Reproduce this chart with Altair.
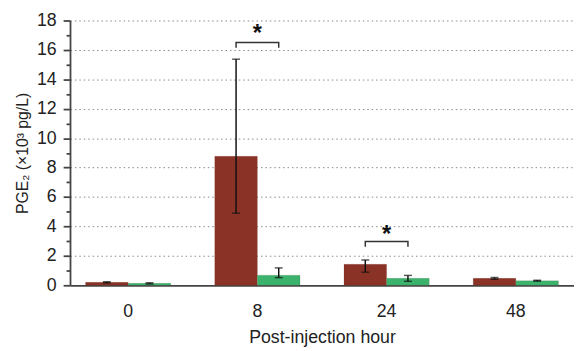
import altair as alt
import pandas as pd

hours = ["0", "8", "24", "48"]
groups = ["A", "B"]
red_vals = [0.20, 8.77, 1.43, 0.47]
red_lo = [0.16, 4.90, 0.89, 0.41]
red_hi = [0.24, 15.37, 1.72, 0.53]
green_vals = [0.13, 0.69, 0.47, 0.31]
green_lo = [0.09, 0.52, 0.27, 0.28]
green_hi = [0.17, 1.18, 0.67, 0.34]

sig_hours = ["8", "24"]
sig_top = [16.5, 2.97]
sig_leg = [16.15, 2.62]
sig_star = [17.35, 3.65]

rows = []
for i, h in enumerate(hours):
    rows.append({"hour": h, "group": "A", "v": red_vals[i], "lo": red_lo[i], "hi": red_hi[i]})
    rows.append({"hour": h, "group": "B", "v": green_vals[i], "lo": green_lo[i], "hi": green_hi[i]})
df = pd.DataFrame(rows)

brows = []
for i, h in enumerate(sig_hours):
    brows += [
        {"hour": h, "group": "A", "y": sig_leg[i], "o": 0},
        {"hour": h, "group": "A", "y": sig_top[i], "o": 1},
        {"hour": h, "group": "B", "y": sig_top[i], "o": 2},
        {"hour": h, "group": "B", "y": sig_leg[i], "o": 3},
    ]
bdf = pd.DataFrame(brows)
sdf = pd.DataFrame({"hour": sig_hours, "y": sig_star, "t": ["*"] * len(sig_hours)})

FONT = "Liberation Sans"
YTITLE = "PGE₂ (×10³ pg/L)"

xaxis = alt.Axis(
    title="Post-injection hour",
    labelAngle=0,
    ticks=False,
    labelPadding=18,
    labelFontSize=18,
    titleFontSize=18,
    titleFontWeight="normal",
    titlePadding=8,
    labelColor="#222",
    titleColor="#222",
    domainColor="#444",
    domainWidth=1.8,
    grid=False,
    labelFont=FONT,
    titleFont=FONT,
)
xscale = alt.Scale(paddingInner=0.34, paddingOuter=0.12)


def X():
    return alt.X("hour:N", sort=hours, scale=xscale, axis=xaxis)


xoff = alt.XOffset("group:N", sort=groups, scale=alt.Scale(domain=groups))

yscale = alt.Scale(domain=[0, 18], nice=False)
yaxis = alt.Axis(
    title=YTITLE,
    values=list(range(0, 19)),
    labelExpr="datum.value % 2 == 0 ? datum.label : ''",
    labelOverlap=False,
    tickSize={"condition": {"test": "datum.value % 2 == 0", "value": 7}, "value": 4},
    gridOpacity={"condition": {"test": "datum.value % 2 == 0 && datum.value > 0", "value": 1}, "value": 0},
    grid=True,
    gridDash=[1.5, 3],
    gridColor="#888",
    gridWidth=1,
    domainColor="#444",
    domainWidth=1.8,
    tickColor="#444",
    tickWidth=1.8,
    labelFontSize=18,
    titleFontSize=16,
    titleFontWeight="normal",
    labelPadding=7,
    titlePadding=6,
    labelColor="#222",
    titleColor="#222",
    labelFont=FONT,
    titleFont=FONT,
)


def Y(field):
    return alt.Y(field, scale=yscale, axis=yaxis, title=YTITLE)


color = alt.Color("group:N", scale=alt.Scale(domain=groups, range=["#8B3226", "#3CB36D"]), legend=None)

bars = alt.Chart(df).mark_bar(stroke="#5a2a20", strokeWidth=0.3, strokeOpacity=0.4).encode(
    x=X(), xOffset=xoff, y=Y("v:Q"), color=color
)
err = alt.Chart(df).mark_rule(color="#111", strokeWidth=1.5).encode(
    x=X(), xOffset=xoff, y=Y("lo:Q"), y2="hi:Q"
)
cap_lo = alt.Chart(df).mark_tick(color="#111", thickness=1.5, size=8, orient="horizontal").encode(
    x=X(), xOffset=xoff, y=Y("lo:Q")
)
cap_hi = alt.Chart(df).mark_tick(color="#111", thickness=1.5, size=8, orient="horizontal").encode(
    x=X(), xOffset=xoff, y=Y("hi:Q")
)
brackets = alt.Chart(bdf).mark_line(color="#333", strokeWidth=1.5).encode(
    x=X(), xOffset=xoff, y=Y("y:Q"), detail="hour:N", order="o:Q"
)
stars = alt.Chart(sdf).mark_text(fontSize=24, fontWeight="bold", font=FONT, color="#111", baseline="middle", dy=4).encode(
    x=X(), y=Y("y:Q"), text="t:N"
)

chart = alt.layer(bars, err, cap_lo, cap_hi, brackets, stars).properties(
    width=512, height=269,
    autosize=alt.AutoSizeParams(type="none"),
    padding={"left": 63, "top": 10, "right": 0, "bottom": 60},
    background="white",
).configure_view(stroke=None).configure_axisY(labelFontSize=18, titleFontSize=16)

chart.save("out.html", embed_options={"renderer": "svg", "actions": False})
